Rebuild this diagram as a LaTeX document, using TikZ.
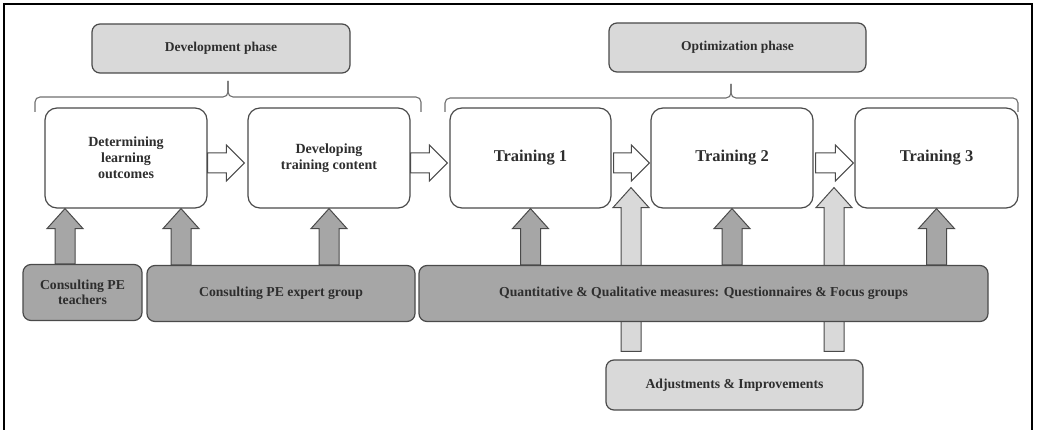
\documentclass[tikz,border=0pt]{standalone}
\usepackage{fontspec}
\setmainfont{Liberation Serif}
\usetikzlibrary{calc}

\definecolor{edgegray}{HTML}{4A4A4A}
\definecolor{darkfill}{HTML}{A6A6A6}
\definecolor{lightfill}{HTML}{D9D9D9}
\definecolor{textgray}{HTML}{2E2E2E}

\tikzset{
  stepbox/.style={draw=edgegray, line width=1.2pt, fill=white, rounded corners=12pt,
    align=center, font=\bfseries\fontsize{14}{16}\selectfont, text=textgray,
    minimum width=162pt, minimum height=100pt, inner sep=0pt},
  trainbox/.style={stepbox, font=\bfseries\fontsize{16.5}{19}\selectfont},
  phasebox/.style={draw=edgegray, line width=1.2pt, fill=lightfill, rounded corners=8pt,
    font=\bfseries\fontsize{13.5}{15}\selectfont, text=textgray,
    minimum width=258pt, minimum height=49pt, inner sep=0pt},
  sourcebox/.style={draw=edgegray, line width=1.2pt, fill=darkfill, rounded corners=8pt,
    align=center, font=\bfseries\fontsize{13.7}{15.5}\selectfont, text=textgray,
    minimum height=56pt, inner sep=0pt},
  adjustbox/.style={sourcebox, fill=lightfill, minimum height=50pt},
  flowarr/.style={draw=edgegray, line width=1pt, fill=white},
  inputarr/.style={draw=edgegray, line width=1pt, fill=darkfill},
  feedarr/.style={draw=edgegray, line width=1pt, fill=lightfill},
  bracket/.style={draw=edgegray!80, line width=1.1pt, rounded corners=5pt}
}

\newcommand\blockup[3]{%
  \path[#1] let \p1=#2, \p2=#3 in
    (\x2-10pt,\y1) -- (\x2-10pt,\y2-20pt) -- (\x2-18pt,\y2-20pt) -- (\x2,\y2)
    -- (\x2+18pt,\y2-20pt) -- (\x2+10pt,\y2-20pt) -- (\x2+10pt,\y1) -- cycle;}
\newcommand\blockright[3]{%
  \path[#1] let \p1=#2, \p2=#3 in
    (\x1,\y1-10pt) -- (\x2-18pt,\y1-10pt) -- (\x2-18pt,\y1-18pt) -- (\x2,\y1)
    -- (\x2-18pt,\y1+18pt) -- (\x2-18pt,\y1+10pt) -- (\x1,\y1+10pt) -- cycle;}

\begin{document}
\begin{tikzpicture}[x=1pt, y=-1pt]
\useasboundingbox (0,0) rectangle (1038,430);
\draw[line width=2.6pt] (4,432) -- (4,4) -- (1032,4) -- (1032,432);

\node[phasebox] (devp) at (221,48.5) {Development phase};
\node[phasebox, minimum width=257pt] (optp) at (737.5,47.5) {Optimization phase};

\draw[bracket] (35,112) |- (228,97) -- (228,81);
\draw[bracket] (421,112) |- (228,97) -- (228,81);
\draw[bracket] (445,112) |- (731,98) -- (731,84);
\draw[bracket] (1018,112) |- (731,98) -- (731,84);

\node[stepbox] (det) at (126,158) {Determining\\learning\\outcomes};
\node[stepbox] (dev) at (329,158) {Developing\\training content};
\node[trainbox, minimum width=161pt] (t1) at (530.5,158) {Training 1};
\node[trainbox] (t2) at (732,158) {Training 2};
\node[trainbox, minimum width=163pt] (t3) at (936.5,158) {Training 3};

\node[adjustbox, minimum width=257pt] (adj) at (734.5,385) {Adjustments \& Improvements};

\coordinate (fb1) at ($(t1.south east)!0.5!(t2.south west)+(0,-21)$);
\coordinate (fb2) at ($(t2.south east)!0.5!(t3.south west)+(0,-21)$);
\blockup{feedarr}{($(fb1 |- adj.north)+(0,-8)$)}{(fb1)}
\blockup{feedarr}{($(fb2 |- adj.north)+(0,-8)$)}{(fb2)}

\node[sourcebox, minimum width=119pt] (teach) at (82.5,292.5) {Consulting PE\\teachers};
\node[sourcebox, minimum width=268pt] (expert) at (281,293.5) {Consulting PE expert group};
\node[sourcebox, minimum width=569pt] (quant) at (703.5,293.5)
  {Quantitative \& Qualitative measures: Questionnaires \& Focus groups};

\blockright{flowarr}{($(det.east)+(0,5)$)}{($(dev.west)+(-3,5)$)}
\blockright{flowarr}{($(dev.east)+(0,5)$)}{($(t1.west)+(-2,5)$)}
\blockright{flowarr}{($(t1.east)+(2,5)$)}{($(t2.west)+(-1,5)$)}
\blockright{flowarr}{($(t2.east)+(2,5)$)}{($(t3.west)+(-1,5)$)}

\coordinate (in1) at (65,0);
\coordinate (in2) at (181,0);
\blockup{inputarr}{(in1 |- teach.north)}{(in1 |- det.south)}
\blockup{inputarr}{(in2 |- expert.north)}{(in2 |- det.south)}
\blockup{inputarr}{(dev.south |- expert.north)}{(dev.south)}
\blockup{inputarr}{(t1.south |- quant.north)}{(t1.south)}
\blockup{inputarr}{(t2.south |- quant.north)}{(t2.south)}
\blockup{inputarr}{(t3.south |- quant.north)}{(t3.south)}
\end{tikzpicture}
\end{document}
